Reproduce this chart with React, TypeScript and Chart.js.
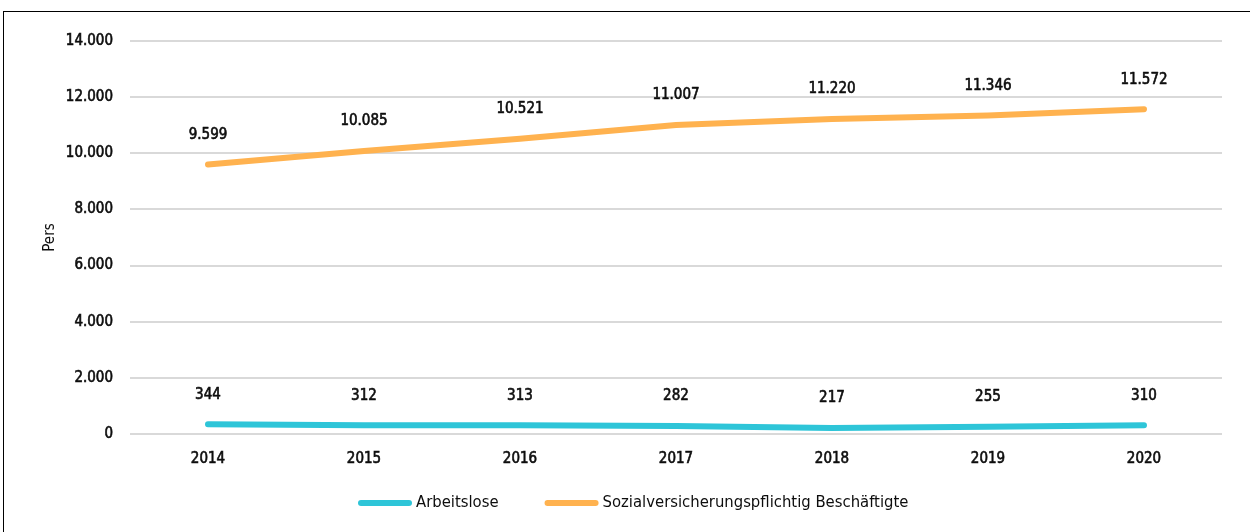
import React, { useEffect, useRef } from "react";
import { Chart, registerables } from "chart.js";

Chart.register(...registerables);

const years = ["2014", "2015", "2016", "2017", "2018", "2019", "2020"];
const arbeitslose = [344, 312, 313, 282, 217, 255, 310];
const beschaeftigte = [9599, 10085, 10521, 11007, 11220, 11346, 11572];
const seriesLabels = ["Arbeitslose", "Sozialversicherungspflichtig Beschäftigte"];
const seriesColors = ["#2ec5d8", "#ffb24f"];
const yTitle = "Pers";

const FONT = "'DejaVu Sans Condensed', 'Liberation Sans Narrow', sans-serif";
const FS = 15;
const LEGEND_FS = 16.5;
const TEXT = "#0d0d0d";
const STROKE = 0.6;

function fmt(v: number): string {
  const s = Math.round(v).toString();
  return s.replace(/\B(?=(\d{3})+(?!\d))/g, ".");
}

const dataLabelPlugin = {
  id: "dataLabels",
  afterDatasetsDraw(chart: any) {
    const ctx = chart.ctx;
    ctx.save();
    ctx.font = `${FS}px ${FONT}`;
    ctx.fillStyle = TEXT;
    ctx.strokeStyle = TEXT;
    ctx.lineWidth = STROKE;
    ctx.lineJoin = "round";
    ctx.textAlign = "center";
    ctx.textBaseline = "middle";
    chart.data.datasets.forEach((ds: any, i: number) => {
      const meta = chart.getDatasetMeta(i);
      meta.data.forEach((pt: any, j: number) => {
        const t = fmt(ds.data[j]);
        ctx.strokeText(t, pt.x, pt.y - 29.5);
        ctx.fillText(t, pt.x, pt.y - 29.5);
      });
    });
    ctx.restore();
  },
};

const legendPlugin = {
  id: "customLegend",
  afterDraw(chart: any) {
    const ctx = chart.ctx;
    ctx.save();
    ctx.font = `${LEGEND_FS}px ${FONT}`;
    ctx.textBaseline = "middle";
    ctx.textAlign = "left";
    const lineW = 54;
    const gapText = 4;
    const gapItem = 46;
    const items = chart.data.datasets.map((ds: any) => ({
      label: ds.label,
      color: ds.borderColor,
      w: lineW + gapText + ctx.measureText(ds.label).width,
    }));
    let x = 358;
    const y = 503;
    items.forEach((it: any) => {
      ctx.strokeStyle = it.color;
      ctx.lineWidth = 6;
      ctx.lineCap = "round";
      ctx.beginPath();
      ctx.moveTo(x + 3, y);
      ctx.lineTo(x + lineW - 3, y);
      ctx.stroke();
      ctx.fillStyle = TEXT;
      ctx.fillText(it.label, x + lineW + gapText, y);
      x += it.w + gapItem;
    });
    ctx.restore();
  },
};

export default function App() {
  const ref = useRef<HTMLCanvasElement>(null);
  useEffect(() => {
    if (!ref.current) return;
    const chart = new Chart(ref.current, {
      type: "line",
      data: {
        labels: years,
        datasets: [
          {
            label: seriesLabels[0],
            data: arbeitslose,
            borderColor: seriesColors[0],
            backgroundColor: seriesColors[0],
            borderWidth: 6,
            borderCapStyle: "round",
            pointRadius: 0,
            tension: 0,
          },
          {
            label: seriesLabels[1],
            data: beschaeftigte,
            borderColor: seriesColors[1],
            backgroundColor: seriesColors[1],
            borderWidth: 6,
            borderCapStyle: "round",
            pointRadius: 0,
            tension: 0,
          },
        ],
      },
      options: {
        responsive: false,
        animation: false,
        layout: { padding: { top: 41, right: 28, left: 0, bottom: 0 } },
        plugins: {
          legend: { display: false },
          tooltip: { enabled: false },
        },
        scales: {
          x: {
            offset: true,
            grid: { display: false, drawTicks: false },
            border: { display: false },
            ticks: {
              padding: 16,
              color: TEXT,
              textStrokeColor: TEXT,
              textStrokeWidth: STROKE,
              font: { family: FONT, size: FS },
              maxRotation: 0,
            },
            afterFit(scale: any) {
              scale.height = 98;
            },
          },
          y: {
            min: 0,
            max: 14000,
            ticks: {
              stepSize: 2000,
              padding: 17,
              color: TEXT,
              textStrokeColor: TEXT,
              textStrokeWidth: STROKE,
              font: { family: FONT, size: FS },
              callback: (v: any) => fmt(Number(v)),
            },
            grid: { color: "#d9d9d9", lineWidth: 2, drawTicks: false },
            border: { display: false },
            title: {
              display: true,
              text: yTitle,
              color: TEXT,
              font: { family: FONT, size: FS },
              padding: { top: 41, bottom: 0 },
            },
            afterFit(scale: any) {
              scale.width = 130;
            },
          },
        },
      },
      plugins: [dataLabelPlugin, legendPlugin],
    } as any);
    return () => chart.destroy();
  }, []);

  return (
    <div
      style={{
        position: "fixed",
        left: 0,
        top: 0,
        width: 1250,
        height: 532,
        overflow: "hidden",
        background: "#fff",
      }}
    >
      <div
        style={{
          position: "absolute",
          left: 3,
          top: 11,
          width: 1300,
          height: 600,
          borderLeft: "1.5px solid #000",
          borderTop: "1.5px solid #000",
        }}
      />
      <canvas
        ref={ref}
        width={1250}
        height={532}
        style={{ position: "absolute", left: 0, top: 0, width: 1250, height: 532 }}
      />
    </div>
  );
}
